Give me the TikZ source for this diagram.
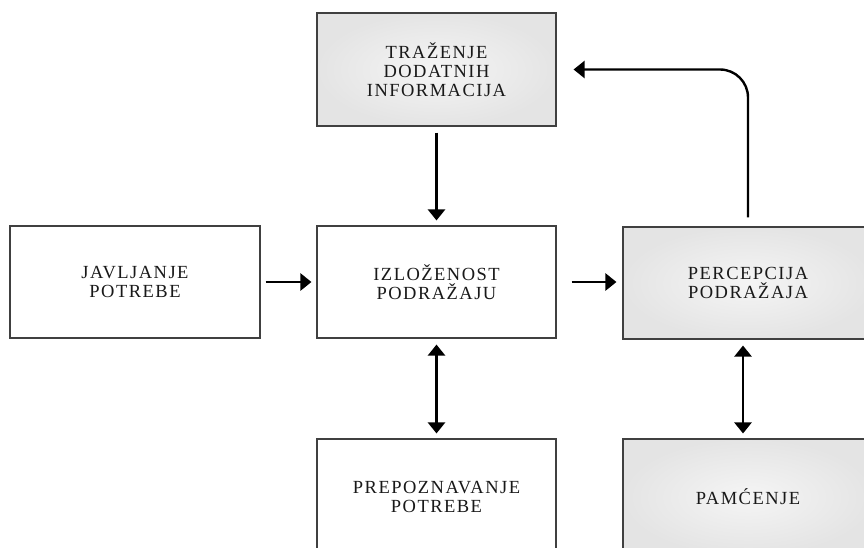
\documentclass[tikz,border=0pt]{standalone}
\usepackage{fontspec}
\usetikzlibrary{arrows.meta}
\newfontfamily\boxfamily[LetterSpace=8]{Liberation Serif}
\newcommand\boxlabelfont{\boxfamily\fontsize{18.5pt}{19pt}\selectfont}
\begin{document}
\begin{tikzpicture}[x=1pt,y=-1pt,
  box/.style={draw=black!75, line width=1.1pt, align=center, inner sep=0pt,
    font=\boxlabelfont, text=black!90, fill=white},
  greybox/.style={box, inner color=gray!8, outer color=gray!21},
  tip/.tip={Triangle[length=11pt,width=17pt]},
  link/.style={line width=2.4pt, -tip},
  twoway/.style={line width=2.4pt, tip-tip}]
\path[use as bounding box] (0,0) rectangle (864,547);
\clip (0,0) rectangle (864,547);

% boxes
\node[greybox, minimum width=239pt, minimum height=113pt] (info) at (436.5,69.5)
  {TRAŽENJE\\DODATNIH\\INFORMACIJA};
\node[box, minimum width=250pt, minimum height=112pt] (need) at (135,282)
  {JAVLJANJE\\POTREBE};
\node[box, minimum width=239pt, minimum height=112pt] (expo) at (436.5,282)
  {IZLOŽENOST\\PODRAŽAJU};
\node[greybox, minimum width=250pt, minimum height=112pt] (perc) at (748,283)
  {PERCEPCIJA\\PODRAŽAJA};
\node[box, minimum width=239pt, minimum height=116pt] (recog) at (436.5,497)
  {PREPOZNAVANJE\\POTREBE};
\node[greybox, minimum width=250pt, minimum height=116pt] (mem) at (748,497)
  {PAMĆENJE};

% connectors
\draw[link, shorten <=6pt, shorten >=5pt] (info.south) -- (expo.north);
\draw[link, shorten <=5pt, shorten >=5pt] (need.east) -- (expo.east -| expo.west);
\draw[link, shorten <=15pt, shorten >=6pt] (expo.east) -- (perc.west |- expo.east);
\draw[twoway, shorten <=6pt, shorten >=5pt] (expo.south) -- (recog.north);
\draw[twoway, shorten <=6pt, shorten >=5pt] ([xshift=-5pt]perc.south) -- ([xshift=-5pt]mem.north);
\draw[link, rounded corners=28pt] ([yshift=9pt]perc.north) |- ([xshift=17pt]info.east);
\end{tikzpicture}
\end{document}
